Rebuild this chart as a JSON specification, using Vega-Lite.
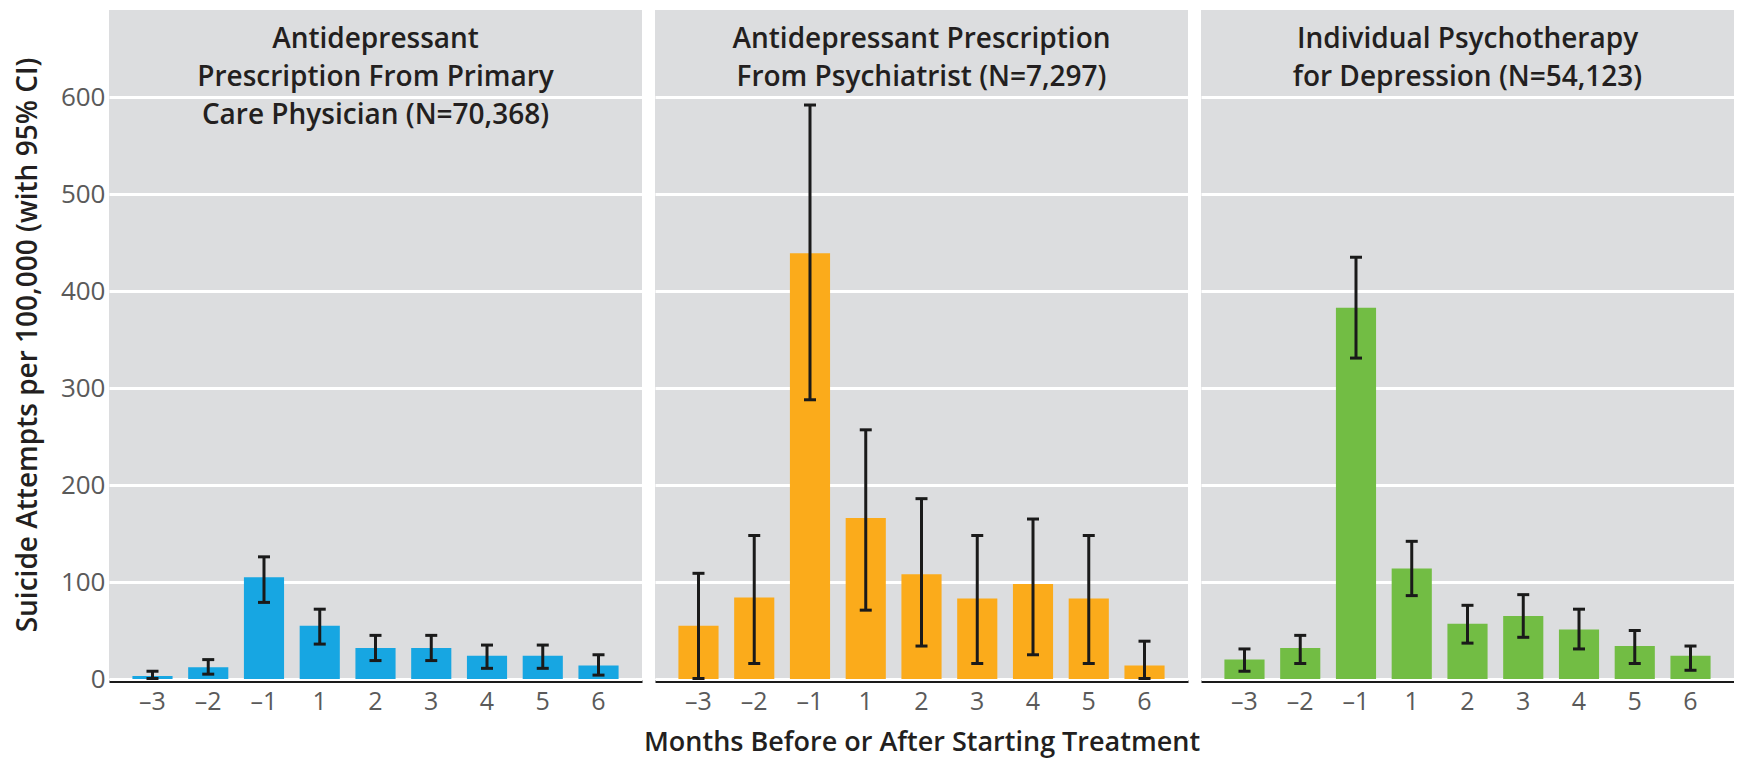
{
  "$schema": "https://vega.github.io/schema/vega-lite/v6.json",
  "background": "white",
  "padding": {"left": 14, "top": 10, "right": 0, "bottom": 9},
  "data": {
    "values": [
      {"panel": "A", "month": "–3", "rate": 3, "lo": 0.5, "hi": 8},
      {"panel": "A", "month": "–2", "rate": 12, "lo": 5, "hi": 20},
      {"panel": "A", "month": "–1", "rate": 105, "lo": 79, "hi": 126},
      {"panel": "A", "month": "1", "rate": 55, "lo": 36, "hi": 72},
      {"panel": "A", "month": "2", "rate": 32, "lo": 19, "hi": 45},
      {"panel": "A", "month": "3", "rate": 32, "lo": 19, "hi": 45},
      {"panel": "A", "month": "4", "rate": 24, "lo": 11, "hi": 35},
      {"panel": "A", "month": "5", "rate": 24, "lo": 11, "hi": 35},
      {"panel": "A", "month": "6", "rate": 14, "lo": 4, "hi": 25},
      {"panel": "B", "month": "–3", "rate": 55, "lo": 0.5, "hi": 109},
      {"panel": "B", "month": "–2", "rate": 84, "lo": 16, "hi": 148},
      {"panel": "B", "month": "–1", "rate": 439, "lo": 288, "hi": 592},
      {"panel": "B", "month": "1", "rate": 166, "lo": 71, "hi": 257},
      {"panel": "B", "month": "2", "rate": 108, "lo": 34, "hi": 186},
      {"panel": "B", "month": "3", "rate": 83, "lo": 16, "hi": 148},
      {"panel": "B", "month": "4", "rate": 98, "lo": 25, "hi": 165},
      {"panel": "B", "month": "5", "rate": 83, "lo": 16, "hi": 148},
      {"panel": "B", "month": "6", "rate": 14, "lo": 0.5, "hi": 39},
      {"panel": "C", "month": "–3", "rate": 20, "lo": 8, "hi": 31},
      {"panel": "C", "month": "–2", "rate": 32, "lo": 16, "hi": 45},
      {"panel": "C", "month": "–1", "rate": 383, "lo": 331, "hi": 435},
      {"panel": "C", "month": "1", "rate": 114, "lo": 86, "hi": 142},
      {"panel": "C", "month": "2", "rate": 57, "lo": 37, "hi": 76},
      {"panel": "C", "month": "3", "rate": 65, "lo": 43, "hi": 87},
      {"panel": "C", "month": "4", "rate": 51, "lo": 31, "hi": 72},
      {"panel": "C", "month": "5", "rate": 34, "lo": 16, "hi": 50},
      {"panel": "C", "month": "6", "rate": 24, "lo": 9, "hi": 34},
      {"panel": "A", "month": "2", "ty": 674, "title": "Antidepressant\nPrescription From Primary\nCare Physician (N=70,368)"},
      {"panel": "B", "month": "2", "ty": 674, "title": "Antidepressant Prescription\nFrom Psychiatrist (N=7,297)"},
      {"panel": "C", "month": "2", "ty": 674, "title": "Individual Psychotherapy\nfor Depression (N=54,123)"}
    ]
  },
  "facet": {
    "column": {
      "field": "panel",
      "type": "nominal",
      "sort": ["A", "B", "C"],
      "title": "Months Before or After Starting Treatment",
      "header": {
        "labels": false,
        "titleOrient": "bottom",
        "titleFont": "Open Sans",
        "titleFontSize": 27,
        "titleFontWeight": 600,
        "titleColor": "#231f20",
        "titlePadding": 6
      }
    }
  },
  "spacing": 13,
  "spec": {
    "width": 533,
    "height": 669,
    "encoding": {
      "x": {
        "field": "month",
        "type": "nominal",
        "sort": ["–3", "–2", "–1", "1", "2", "3", "4", "5", "6"],
        "scale": {"paddingInner": 0.28, "paddingOuter": 0.42},
        "axis": {
          "title": null,
          "labelAngle": 0,
          "ticks": false,
          "domainColor": "#1a1a1a",
          "domainWidth": 3,
          "labelFont": "Open Sans",
          "labelFontSize": 25,
          "labelColor": "#5a5a5a",
          "labelPadding": 8
        }
      }
    },
    "layer": [
      {
        "transform": [{"filter": "datum.rate != null"}],
        "mark": {"type": "bar"},
        "encoding": {
          "y": {
            "field": "rate",
            "type": "quantitative",
            "title": "Suicide Attempts per 100,000 (with 95% CI)",
            "scale": {"domain": [0, 690], "nice": false},
            "axis": {
              "values": [0, 100, 200, 300, 400, 500, 600],
              "grid": true,
              "gridColor": "white",
              "gridWidth": 3,
              "domain": false,
              "ticks": false,
              "labelFont": "Open Sans",
              "labelFontSize": 26,
              "labelColor": "#5a5a5a",
              "labelPadding": 4,
              "titleFont": "Open Sans",
              "titleFontSize": 28,
              "titleFontWeight": 600,
              "titleColor": "#231f20",
              "titlePadding": 18
            }
          },
          "color": {
            "field": "panel",
            "type": "nominal",
            "scale": {"domain": ["A", "B", "C"], "range": ["#17a6e2", "#fbab1b", "#72bd44"]},
            "legend": null
          }
        }
      },
      {
        "transform": [{"filter": "datum.rate != null"}],
        "mark": {"type": "rule", "strokeWidth": 3, "color": "#1a1a1a"},
        "encoding": {
          "y": {"field": "lo", "type": "quantitative", "title": "Suicide Attempts per 100,000 (with 95% CI)"},
          "y2": {"field": "hi"}
        }
      },
      {
        "transform": [{"filter": "datum.rate != null"}],
        "mark": {"type": "tick", "thickness": 3, "size": 12, "color": "#1a1a1a", "opacity": 1},
        "encoding": {
          "y": {"field": "lo", "type": "quantitative", "title": "Suicide Attempts per 100,000 (with 95% CI)"}
        }
      },
      {
        "transform": [{"filter": "datum.rate != null"}],
        "mark": {"type": "tick", "thickness": 3, "size": 12, "color": "#1a1a1a", "opacity": 1},
        "encoding": {
          "y": {"field": "hi", "type": "quantitative", "title": "Suicide Attempts per 100,000 (with 95% CI)"}
        }
      },
      {
        "transform": [{"filter": "datum.title != null"}],
        "mark": {
          "type": "text",
          "baseline": "top",
          "align": "center",
          "lineBreak": "\n",
          "lineHeight": 38,
          "font": "Open Sans",
          "fontSize": 28,
          "fontWeight": 600,
          "color": "#231f20"
        },
        "encoding": {
          "y": {"field": "ty", "type": "quantitative", "title": "Suicide Attempts per 100,000 (with 95% CI)"},
          "text": {"field": "title"}
        }
      }
    ]
  },
  "config": {
    "view": {"fill": "#dcdddf", "stroke": null}
  }
}
